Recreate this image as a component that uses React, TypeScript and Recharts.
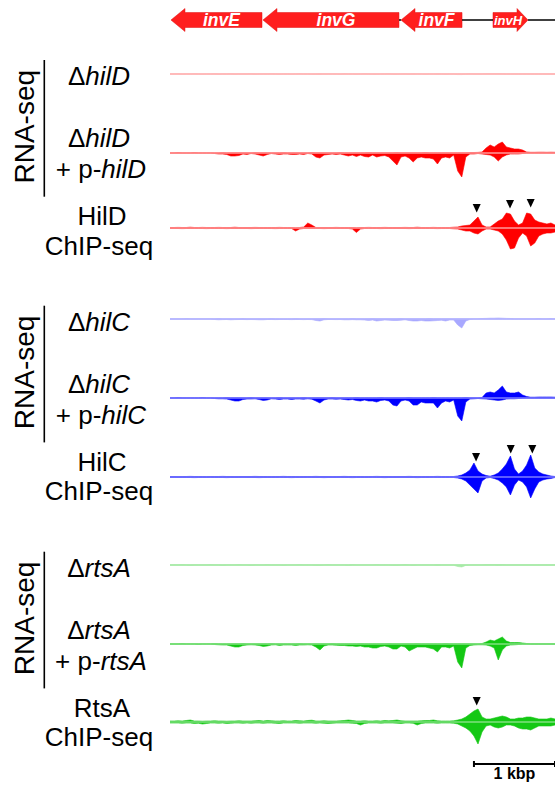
import React from 'react';
import { ComposedChart, Area, XAxis, YAxis, ReferenceLine, ReferenceArea, Scatter, Line, Label } from 'recharts';

// ---------- genomic window (bp) ----------
const BIN = 50;
const REGION_END = 4750;

// ---------- genes ----------
const geneNames = ['invE', 'invG', 'invF', 'invH'];
const geneStart = [12, 1147, 2850, 3985];
const geneEnd = [1135, 2825, 3603, 4417];
const geneStrand = [-1, -1, -1, 1];
const geneFont = [17.5, 17.5, 17.5, 13];
// intergenic backbone pieces (bp)
const backboneStart = [2825, 3603, 4417];
const backboneEnd = [2850, 3985, 4750];

// ---------- scale bar ----------
const scaleBarX = [3750, 4750];
const scaleBarText = '1 kbp';

// ---------- tracks (coverage per 50-bp bin; pos = up, neg = down) ----------
const dHilD_pos = [0.3,0.3,0.4,0.3,0.3,0.3,0.4,0.3,0.3,0.3, 0.3,0.4,0.3,0.3,0.3,0.4,0.3,0.3,0.3,0.3, 0.4,0.3,0.3,0.3,0.3,0.4,0.3,0.3,0.3,0.3, 0.3,0.3,0.4,0.3,0.3,0.3,0.3,0.4,0.3,0.3, 0.3,0.3,0.3,0.4,0.3,0.3,0.3,0.3,0.4,0.3, 0.3,0.3,0.3,0.3,0.4,0.3,0.3,0.3,0.3,0.3, 0.4,0.3,0.3,0.3,0.3,0.3,0.4,0.3,0.3,0.3, 0.3,0.3,0.3,0.3,0.4,0.3,0.3,0.3,0.4,0.4, 0.5,0.5,0.4,0.3,0.3,0.3,0.3,0.3,0.3,0.3, 0.3,0.3,0.3,0.3,0.3,0.3];
const dHilD_neg = [0.3,0.3,0.3,0.4,0.3,0.3,0.3,0.3,0.4,0.3, 0.3,0.3,0.4,0.3,0.3,0.3,0.4,0.3,0.3,0.3, 0.3,0.4,0.3,0.3,0.3,0.3,0.3,0.4,0.3,0.3, 0.4,0.3,0.3,0.3,0.3,0.4,0.4,0.5,0.3,0.3, 0.3,0.3,0.4,0.3,0.3,0.3,0.4,0.3,0.3,0.3, 0.4,0.4,0.3,0.3,0.3,0.4,0.4,0.3,0.3,0.4, 0.4,0.3,0.3,0.4,0.3,0.3,0.4,0.3,0.4,0.3, 0.3,0.6,0.6,0.3,0.3,0.3,0.3,0.3,0.3,0.3, 0.3,0.3,0.3,0.3,0.3,0.3,0.3,0.3,0.3,0.3, 0.3,0.3,0.3,0.3,0.3,0.3];

const pHilD_pos = [0.3,0.3,0.4,0.3,0.3,0.3,0.4,0.3,0.3,0.3, 0.3,0.3,0.3,0.4,0.3,0.3,0.3,0.3,0.3,0.3, 0.3,0.4,0.3,0.3,0.3,0.3,0.3,0.3,0.4,0.3, 0.3,0.3,0.3,0.3,0.3,0.4,0.3,0.3,0.3,0.3, 0.3,0.3,0.4,0.3,0.3,0.3,0.3,0.3,0.3,0.4, 0.3,0.3,0.3,0.3,0.3,0.3,0.4,0.3,0.3,0.3, 0.3,0.3,0.3,0.4,0.3,0.3,0.3,0.3,0.3,0.3, 0.3,0.3,0.3,0.3,0.4,0.5,0.6,1,5,8, 6,9,11,6,5,4,4,3,1,0.7, 0.7,0.8,0.8,0.7,0.8,0.7];
const pHilD_neg = [0.3,0.3,0.3,0.3,0.3,0.3,0.3,0.3,0.3,0.3, 0.3,0.5,1,1,1.5,3,3,2.5,1,1.5, 0.5,1,2,3,1.5,0.5,1,1.5,1,1, 1.5,1.5,1,1.5,0.5,1,4,5,2,1.5, 1,1.5,1,2,3,2,3.5,2,3.5,4, 2,4,3,2.5,4,8,12,4,3,5, 9,5,4,5,5,6,11,5,4,5, 2,18,24,4,1,1,0.5,1,1.5,2, 4,8,4,2,1,1,1,0.5,0.3,0.3, 0.3,0.3,0.3,0.3,0.3,0.3];

const chipHilD_pos = [0.5,0.5,0.6,0.5,0.5,0.8,0.5,0.5,0.6,0.5, 0.5,0.5,0.6,0.5,0.5,0.5,0.8,0.5,0.5,0.5, 0.5,0.6,0.5,0.5,0.5,0.5,0.5,0.6,0.5,0.5, 0.5,0.3,0.5,1,5,3,0.5,0.5,0.5,0.5, 0.5,0.6,0.5,0.5,0.5,0.5,0.3,0.5,0.5,0.6, 0.5,0.5,0.5,0.6,0.5,0.5,0.5,0.5,0.6,0.5, 0.5,0.8,0.5,0.5,0.5,0.6,0.5,0.5,0.5,0.5, 0.8,1,2,2.5,3,7,11,3,1,1, 4,7,9,15,14,7,3,5,15,14, 8,6,5,4,5,3];
const chipHilD_neg = [0.5,0.5,0.5,0.6,0.5,0.5,0.5,0.5,0.5,0.6, 0.5,0.5,0.5,0.5,0.6,0.5,0.5,0.5,0.5,0.5, 0.6,0.5,0.5,0.5,0.5,0.5,0.6,0.5,0.5,0.5, 0.5,3,1,0.5,0.5,0.5,0.5,0.5,0.6,0.5, 0.5,0.5,0.5,0.5,0.5,1,4.5,1,0.5,0.5, 0.5,0.5,0.6,0.5,0.5,0.5,0.5,0.5,0.5,0.6, 0.5,0.5,0.5,0.5,0.5,0.5,0.6,0.5,0.5,0.5, 0.8,1,2,3,3,5,6,3,1,1, 2,3,6,12,21,20,10,5,8,18, 15,8,6,5,5,4];
const chipHilD_markX = [3784, 4195, 4450];
const chipHilD_markY = [20, 24, 25];

const dHilC_pos = [0.3,0.3,0.3,0.3,0.4,0.3,0.3,0.3,0.3,0.3, 0.3,0.3,0.4,0.3,0.3,0.3,0.3,0.3,0.4,0.3, 0.3,0.3,0.3,0.3,0.3,0.4,0.3,0.3,0.3,0.3, 0.3,0.4,0.3,0.3,0.3,0.3,0.3,0.3,0.4,0.3, 0.3,0.3,0.3,0.3,0.3,0.4,0.3,0.3,0.3,0.3, 0.4,0.3,0.3,0.3,0.3,0.3,0.3,0.4,0.3,0.3, 0.3,0.3,0.3,0.3,0.4,0.3,0.3,0.3,0.3,0.3, 0.3,0.3,0.3,0.3,0.3,0.3,0.3,0.5,0.6,0.8, 0.8,1,0.8,0.6,0.5,0.3,0.3,0.3,0.3,0.3, 0.3,0.4,0.3,0.3,0.4,0.3];
const dHilC_neg = [0.3,0.3,0.3,0.3,0.3,0.3,0.3,0.3,0.3,0.3, 0.3,0.5,0.8,0.6,0.5,0.8,0.6,0.5,0.5,0.6, 0.5,0.6,0.8,0.8,0.5,0.5,0.6,0.5,0.5,0.5, 0.6,0.5,0.5,0.6,0.5,0.6,1.5,2,0.8,0.5, 0.5,0.6,0.5,0.8,0.8,0.6,0.8,0.8,1,1.5, 1,2,1.5,1,1.2,1.5,1.5,1.2,0.8,1.5, 2,2,1.5,2,2,1.8,1.5,1.2,2,1, 1,6,9,2,0.5,0.3,0.3,0.3,0.3,0.3, 0.3,0.3,0.3,0.3,0.3,0.3,0.3,0.3,0.3,0.3, 0.3,0.3,0.3,0.3,0.3,0.3];

const pHilC_pos = [0.3,0.3,0.4,0.3,0.3,0.3,0.3,0.3,0.4,0.3, 0.3,0.3,0.3,0.3,0.4,0.3,0.3,0.3,0.3,0.3, 0.4,0.3,0.3,0.3,0.3,0.3,0.3,0.4,0.3,0.3, 0.3,0.3,0.3,0.4,0.3,0.3,0.3,0.3,0.3,0.3, 0.4,0.3,0.3,0.3,0.3,0.3,0.4,0.3,0.3,0.3, 0.3,0.3,0.4,0.3,0.3,0.3,0.3,0.3,0.3,0.4, 0.3,0.3,0.3,0.3,0.3,0.4,0.3,0.3,0.3,0.3, 0.3,0.3,0.3,0.4,0.3,0.3,0.3,0.5,5,6, 5,8,12,6,5,5,6,3,1.5,0.8, 0.8,1,1,1,1,0.8];
const pHilC_neg = [0.3,0.3,0.3,0.3,0.3,0.3,0.3,0.3,0.3,0.3, 0.3,0.5,0.8,0.8,1,2,3,3,1.5,1, 1,0.8,1.5,2.5,2,0.8,1,1.5,1,1, 1.5,1,1,1.2,0.8,1.2,3,5,2,1, 1,1.2,1,1.5,2,1.5,2.5,3,2,3, 3,4,2.5,2,3,7,8,3,2,3, 7,7,4,5,5,5,10,5,3,4, 2,18,23,4,1,0.8,0.5,0.8,1,1.5, 2,2.5,2,1,0.8,0.8,0.5,0.3,0.3,0.3, 0.3,0.3,0.3,0.3,0.3,0.3];

const chipHilC_pos = [0.5,0.5,0.4,0.5,0.5,0.6,0.5,0.5,0.5,0.4, 0.5,0.5,0.5,0.6,0.5,0.5,0.4,0.5,0.5,0.5, 0.5,0.6,0.5,0.5,0.5,0.4,0.5,0.5,0.6,0.5, 0.5,0.5,0.4,0.5,0.5,0.5,0.6,0.5,0.5,0.5, 0.4,0.5,0.5,0.6,0.5,0.5,0.5,0.5,0.4,0.5, 0.5,0.6,0.5,0.5,0.5,0.4,0.5,0.5,0.5,0.6, 0.5,0.5,0.4,0.5,0.5,0.5,0.6,0.5,0.5,0.5, 0.5,1,2,4,7,14,6,3,1.5,0.8, 2,4,8,13,21,8,3,6,12,22, 9,5,3,2,1,0.5];
const chipHilC_neg = [0.5,0.4,0.5,0.5,0.5,0.5,0.6,0.5,0.5,0.5, 0.4,0.5,0.5,0.5,0.6,0.5,0.5,0.5,0.4,0.5, 0.5,0.5,0.6,0.5,0.5,0.5,0.5,0.4,0.5,0.5, 0.6,0.5,0.5,0.5,0.4,0.5,0.5,0.5,0.6,0.5, 0.5,0.5,0.4,0.5,0.5,0.6,0.5,0.5,0.5,0.5, 0.4,0.5,0.5,0.6,0.5,0.5,0.5,0.4,0.5,0.5, 0.5,0.6,0.5,0.5,0.5,0.4,0.5,0.5,0.5,0.5, 0.5,1,2,4,8,12,16,4,1,0.5, 1.5,3,6,10,18,8,3,5,10,21, 12,5,3,2,1.5,0.5];
const chipHilC_markX = [3776, 4204, 4470];
const chipHilC_markY = [20, 28, 28];

const dRtsA_pos = [0.3,0.3,0.3,0.4,0.3,0.3,0.3,0.3,0.3,0.3, 0.4,0.3,0.3,0.3,0.3,0.3,0.3,0.4,0.3,0.3, 0.3,0.3,0.3,0.3,0.4,0.3,0.3,0.3,0.3,0.3, 0.3,0.3,0.4,0.3,0.3,0.3,0.3,0.3,0.3,0.4, 0.3,0.3,0.3,0.3,0.3,0.4,0.3,0.3,0.3,0.3, 0.3,0.4,0.3,0.3,0.3,0.3,0.3,0.3,0.4,0.3, 0.3,0.3,0.3,0.3,0.3,0.3,0.4,0.3,0.3,0.3, 0.3,0.3,0.3,0.3,0.3,0.3,0.3,0.3,0.4,0.4, 0.4,0.5,0.4,0.3,0.3,0.3,0.3,0.3,0.3,0.3, 0.3,0.3,0.3,0.3,0.3,0.3];
const dRtsA_neg = [0.3,0.3,0.3,0.3,0.3,0.4,0.3,0.3,0.3,0.3, 0.3,0.3,0.3,0.4,0.3,0.3,0.3,0.3,0.3,0.3, 0.4,0.3,0.3,0.3,0.3,0.3,0.3,0.3,0.4,0.3, 0.3,0.3,0.3,0.3,0.3,0.3,0.4,0.4,0.3,0.3, 0.3,0.3,0.3,0.3,0.4,0.3,0.3,0.3,0.3,0.3, 0.3,0.3,0.3,0.3,0.3,0.4,0.4,0.3,0.3,0.3, 0.4,0.3,0.3,0.3,0.3,0.3,0.4,0.3,0.3,0.3, 0.3,1.5,2,0.4,0.3,0.3,0.3,0.3,0.3,0.3, 0.3,0.4,0.3,0.3,0.3,0.3,0.3,0.3,0.3,0.3, 0.3,0.3,0.3,0.3,0.3,0.3];

const pRtsA_pos = [0.3,0.3,0.3,0.4,0.3,0.3,0.3,0.3,0.3,0.3, 0.3,0.4,0.3,0.3,0.3,0.3,0.3,0.3,0.4,0.3, 0.3,0.3,0.3,0.3,0.3,0.4,0.3,0.3,0.3,0.3, 0.3,0.3,0.4,0.3,0.3,0.3,0.3,0.3,0.3,0.3, 0.4,0.3,0.3,0.3,0.3,0.3,0.3,0.4,0.3,0.3, 0.3,0.3,0.3,0.3,0.4,0.3,0.3,0.3,0.3,0.3, 0.3,0.4,0.3,0.3,0.3,0.3,0.3,0.3,0.4,0.3, 0.3,0.3,0.3,0.3,0.3,0.3,0.3,0.5,2,4, 3,5,7,3,1.5,1.5,1.5,1,0.5,0.3, 0.3,0.3,0.3,0.3,0.3,0.3];
const pRtsA_neg = [0.3,0.3,0.3,0.3,0.3,0.3,0.3,0.5,0.3,0.3, 0.3,0.5,0.8,1,1,2,3,3,1.5,1, 0.8,1,1.5,2.5,2,1,0.8,1.5,1,1, 1,1.5,1,1,0.8,1,3,6,2,1, 1,1.2,1.5,1.5,2,2,2.5,2,3,3, 4,4,2.5,2,3,5,5,2,3,7, 5,3,3,3,4,5,8,3,3,4, 2,18,24,4,1.5,1,0.8,0.8,1,2, 4,16,6,2,1,0.8,0.5,0.3,0.3,0.3, 0.3,0.3,0.3,0.3,0.3,0.3];

const chipRtsA_pos = [1,1,1.2,1,1.5,2,1,1,0.8,1, 1,1.2,1,1,0.8,1,1,1.2,1,1, 1,1.2,1.5,1,1.5,1.2,1,1,1.2,1, 1,1.5,1.2,1,1.5,1.8,1,1,1.2,1, 1,1,1.2,1.5,2,1.5,1,1,1.2,1, 1,1.2,1,1.5,1.2,1.5,2,1.2,1,1, 1,1,1.2,1.5,1.5,2,1.2,1,1,1, 1.2,2,3,5,8,11,13,5,3,3, 4,5,6,5,3,3,4,4,5,5, 4,3,3,3,4,3];
const chipRtsA_neg = [1,1,1,1.2,1,1,1.5,1.2,2,1.5, 1,1,1.2,1,1.5,1.2,1,1,1.2,1, 1.2,1,1,1.2,1,1,1.2,1.5,1,1, 1,1,1.2,1,1,1,1.2,1,1.2,1.5, 1.2,1,1,1,1,1.2,1.5,3,1.5,1, 1,1,1.2,1,1,1,1.2,1.5,1,1, 1.2,3,1.5,1,1,1,1.2,1,1,1, 1.2,2,4,6,9,14,22,10,4,3, 5,6,5,3,3,4,6,7,7,8, 6,4,4,4,4,3];
const chipRtsA_markX = [3784];
const chipRtsA_markY = [21];

// ---------- labels ----------
const groupTitles = ['RNA-seq', 'RNA-seq', 'RNA-seq'];
const groupGenes = ['hilD', 'hilC', 'rtsA'];
const chipProteins = ['HilD', 'HilC', 'RtsA'];

const RED = '#ff0000';
const BLUE = '#0000ff';
const GREEN = '#14c814';

const FONT = '"Liberation Sans", Arial, Helvetica, sans-serif';

const Triangle = (props: any) => {
  const { cx, cy } = props;
  if (cx == null || cy == null) return null;
  return <path d={`M${cx - 4},${cy - 4} L${cx + 4},${cy - 4} L${cx},${cy + 4.5} Z`} fill="#000" />;
};

type TrackProps = {
  baseline: number;
  pos: number[];
  neg: number[];
  color: string;
  base: string;
  markX?: number[];
  markY?: number[];
};

function Track({ baseline, pos, neg, color, base, markX, markY }: TrackProps) {
  const data = pos.map((p, i) => ({ x: i * BIN, pos: p, neg: -neg[i] }));
  const markers = markX ? markX.map((x, i) => ({ x, y: markY![i] })) : null;
  return (
    <div style={{ position: 'absolute', left: 0, top: baseline - 35 }}>
      <ComposedChart width={555} height={70} data={data} margin={{ top: 0, right: 0, bottom: 0, left: 170 }}>
        <XAxis dataKey="x" type="number" domain={[0, REGION_END]} hide />
        <YAxis type="number" domain={[-35, 35]} hide allowDataOverflow />
        <Area dataKey="pos" type="linear" baseValue={0} fill={color} fillOpacity={1} stroke={color} strokeWidth={0.6} dot={false} activeDot={false} isAnimationActive={false} />
        <Area dataKey="neg" type="linear" baseValue={0} fill={color} fillOpacity={1} stroke={color} strokeWidth={0.6} dot={false} activeDot={false} isAnimationActive={false} />
        <ReferenceLine y={0} stroke={base} strokeWidth={1.4} />
        {markers && <Scatter data={markers} dataKey="y" shape={Triangle} isAnimationActive={false} />}
      </ComposedChart>
    </div>
  );
}

const GeneArrow = (props: any) => {
  const { x, y, width, height, name, strand, fontSize } = props;
  const hl = name === 'invH' ? 11 : 14;
  const inset = 4;
  const cy = y + height / 2;
  let pts: string;
  let tx: number;
  if (strand < 0) {
    pts = [
      [x, cy], [x + hl, y], [x + hl, y + inset], [x + width, y + inset],
      [x + width, y + height - inset], [x + hl, y + height - inset], [x + hl, y + height],
    ].map((p) => p.join(',')).join(' ');
    tx = x + hl + (width - hl) / 2 - 2;
  } else {
    const e = x + width;
    pts = [
      [e, cy], [e - hl, y], [e - hl, y + inset], [x, y + inset],
      [x, y + height - inset], [e - hl, y + height - inset], [e - hl, y + height],
    ].map((p) => p.join(',')).join(' ');
    tx = x + (width - hl) / 2 + 3;
  }
  return (
    <g>
      <polygon points={pts} fill="#ff1e1e" stroke="#e01010" strokeWidth={0.5} />
      <text x={tx} y={cy} textAnchor="middle" dominantBaseline="central" fill="#fff"
        fontFamily={FONT} fontSize={fontSize} fontStyle="italic" fontWeight="bold">{name}</text>
    </g>
  );
};

function GeneMap() {
  const backbone = [{ x: 0, y: 0 }, { x: REGION_END, y: 0 }];
  return (
    <div style={{ position: 'absolute', left: 0, top: 0 }}>
      <ComposedChart width={555} height={40} data={backbone} margin={{ top: 0, right: 0, bottom: 0, left: 170 }}>
        <XAxis dataKey="x" type="number" domain={[0, REGION_END]} hide />
        <YAxis type="number" domain={[-20, 20]} hide />
        <Line dataKey="y" stroke="#000" strokeOpacity={0} strokeWidth={1} dot={false} activeDot={false} isAnimationActive={false} />
        {backboneStart.map((s, i) => (
          <ReferenceLine key={'bb' + i} segment={[{ x: s, y: 0 }, { x: backboneEnd[i], y: 0 }]} stroke="#000" strokeWidth={1.5} />
        ))}
        {geneNames.map((g, i) => (
          <ReferenceArea key={g} x1={geneStart[i]} x2={geneEnd[i]} y1={-11.5} y2={11.5}
            shape={(p: any) => <GeneArrow {...p} name={g} strand={geneStrand[i]} fontSize={geneFont[i]} />} />
        ))}
      </ComposedChart>
    </div>
  );
}

function ScaleBar() {
  const bar = scaleBarX.map((x) => ({ x, y: 0 }));
  return (
    <div style={{ position: 'absolute', left: 0, top: 752 }}>
      <ComposedChart width={555} height={33} data={bar} margin={{ top: 0, right: 0, bottom: 0, left: 170 }}>
        <XAxis dataKey="x" type="number" domain={[0, REGION_END]} hide />
        <YAxis type="number" domain={[-21, 12]} hide />
        <Line dataKey="y" stroke="#000" strokeWidth={2} dot={false} activeDot={false} isAnimationActive={false} />
        <ReferenceLine segment={[{ x: scaleBarX[0], y: -3 }, { x: scaleBarX[0], y: 3 }]} stroke="#000" strokeWidth={2} />
        <ReferenceLine segment={[{ x: scaleBarX[1], y: -3 }, { x: scaleBarX[1], y: 3 }]} stroke="#000" strokeWidth={2} />
        <ReferenceLine segment={[{ x: scaleBarX[0], y: 0 }, { x: scaleBarX[1], y: 0 }]} stroke="none">
          <Label value={scaleBarText} position="bottom" offset={4} fill="#000" fontFamily={FONT} fontSize={16} fontWeight="bold" />
        </ReferenceLine>
      </ComposedChart>
    </div>
  );
}

const groupOffsets = [0, 245.7, 491.7];

function Labels() {
  const fs = 26;
  return (
    <svg width={555} height={785} style={{ position: 'absolute', left: 0, top: 0 }} fontFamily={FONT}>
      {groupGenes.map((gene, g) => {
        const o = groupOffsets[g];
        return (
          <g key={gene}>
            <text transform={`translate(33.5,${126.7 + o}) rotate(-90)`} textAnchor="middle" fontSize={28} fill="#000">{groupTitles[g]}</text>
            <line x1={44.3} x2={44.3} y1={60 + o} y2={196.7 + o} stroke="#000" strokeWidth={1.6} />
            <text x={99} y={85 + o} textAnchor="middle" fontSize={fs} fill="#000">
              <tspan>Δ</tspan><tspan fontStyle="italic">{gene}</tspan>
            </text>
            <text x={99} y={147.3 + o} textAnchor="middle" fontSize={fs} fill="#000">
              <tspan>Δ</tspan><tspan fontStyle="italic">{gene}</tspan>
            </text>
            <text x={101} y={178.3 + o} textAnchor="middle" fontSize={fs} fill="#000">
              <tspan>+ p-</tspan><tspan fontStyle="italic">{gene}</tspan>
            </text>
            <text x={102} y={225 + o} textAnchor="middle" fontSize={fs} fill="#000">{chipProteins[g]}</text>
            <text x={99} y={254.5 + o} textAnchor="middle" fontSize={fs} fill="#000">ChIP-seq</text>
          </g>
        );
      })}
    </svg>
  );
}

export default function App() {
  return (
    <div style={{ position: 'absolute', left: 0, top: 0, width: 555, height: 785, background: '#fff', overflow: 'hidden' }}>
      <Labels />
      <GeneMap />
      <Track baseline={74} pos={dHilD_pos} neg={dHilD_neg} color="#ffc4c4" base="#ffb0b0" />
      <Track baseline={153.3} pos={pHilD_pos} neg={pHilD_neg} color={RED} base="#ff9a9a" />
      <Track baseline={227.7} pos={chipHilD_pos} neg={chipHilD_neg} color={RED} base="#ff9a9a" markX={chipHilD_markX} markY={chipHilD_markY} />
      <Track baseline={319} pos={dHilC_pos} neg={dHilC_neg} color="#a8a8ff" base="#b4b4ff" />
      <Track baseline={398.3} pos={pHilC_pos} neg={pHilC_neg} color={BLUE} base="#7d7dff" />
      <Track baseline={476.7} pos={chipHilC_pos} neg={chipHilC_neg} color={BLUE} base="#7d7dff" markX={chipHilC_markX} markY={chipHilC_markY} />
      <Track baseline={565} pos={dRtsA_pos} neg={dRtsA_neg} color="#a6eaa6" base="#a6eaa6" />
      <Track baseline={644} pos={pRtsA_pos} neg={pRtsA_neg} color={GREEN} base="#7fe07f" />
      <Track baseline={722.3} pos={chipRtsA_pos} neg={chipRtsA_neg} color={GREEN} base="#7fe07f" markX={chipRtsA_markX} markY={chipRtsA_markY} />
      <ScaleBar />
    </div>
  );
}
